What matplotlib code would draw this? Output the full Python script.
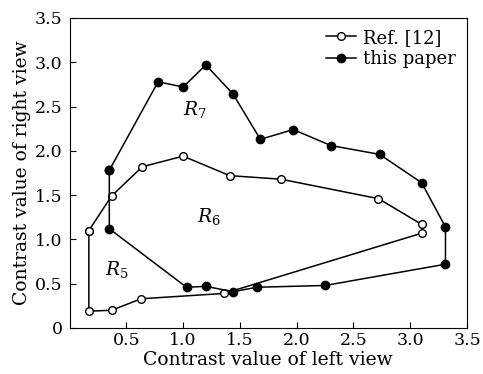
import numpy as np
import matplotlib as mpl
mpl.use('agg')
import matplotlib.pyplot as plt

plt.rcParams['font.family'] = 'DejaVu Serif'
plt.rcParams['mathtext.fontset'] = 'dejavuserif'

# Ref. [12] (open circles), closed loop
ref_x = [0.17, 0.37, 0.64, 1.00, 1.41, 1.86, 2.72, 3.10, 3.10, 1.36, 0.63, 0.37, 0.17, 0.17]
ref_y = [1.10, 1.49, 1.82, 1.94, 1.72, 1.68, 1.46, 1.17, 1.07, 0.39, 0.33, 0.20, 0.19, 1.10]

# this paper (filled circles), closed loop
our_x = [0.35, 0.78, 1.00, 1.20, 1.44, 1.68, 1.97, 2.30, 2.73, 3.10, 3.31, 3.31, 2.25, 1.65, 1.44, 1.20, 1.03, 0.35, 0.35]
our_y = [1.78, 2.78, 2.72, 2.97, 2.64, 2.13, 2.24, 2.06, 1.96, 1.64, 1.14, 0.72, 0.48, 0.46, 0.41, 0.47, 0.46, 1.12, 1.78]

region_labels = ['$R_7$', '$R_6$', '$R_5$']
region_x = [1.0, 1.12, 0.31]
region_y = [2.4, 1.2, 0.6]

fig = plt.figure(figsize=(4.83, 3.74), dpi=100)
ax = fig.add_axes([0.144, 0.123, 0.823, 0.829])

ax.plot(ref_x, ref_y, color='black', lw=1.1, marker='o', ms=5.5,
        mfc='white', mec='black', mew=1, label='Ref. [12]')
ax.plot(our_x, our_y, color='black', lw=1.1, marker='o', ms=6,
        mfc='black', mec='black', label='this paper')

for t, x, y in zip(region_labels, region_x, region_y):
    ax.text(x, y, t, fontsize=13.5)

ax.set_xlim(0, 3.5)
ax.set_ylim(0, 3.5)
ax.set_xticks([0.5, 1.0, 1.5, 2.0, 2.5, 3.0, 3.5])
ax.set_xticklabels(['0.5', '1.0', '1.5', '2.0', '2.5', '3.0', '3.5'])
ax.set_yticks([0, 0.5, 1.0, 1.5, 2.0, 2.5, 3.0, 3.5])
ax.set_yticklabels(['0', '0.5', '1.0', '1.5', '2.0', '2.5', '3.0', '3.5'])
ax.tick_params(direction='in', labelsize=12.5, length=4, pad=5)
ax.tick_params(axis='x', pad=3)

ax.set_xlabel('Contrast value of left view', fontsize=13.5, labelpad=1)
ax.set_ylabel('Contrast value of right view', fontsize=13.5, labelpad=3)

ax.legend(loc='upper right', frameon=False, fontsize=13, handlelength=1.7,
          handletextpad=0.4, borderaxespad=0.2, labelspacing=0.2)

fig.savefig('out.png', dpi=100)
